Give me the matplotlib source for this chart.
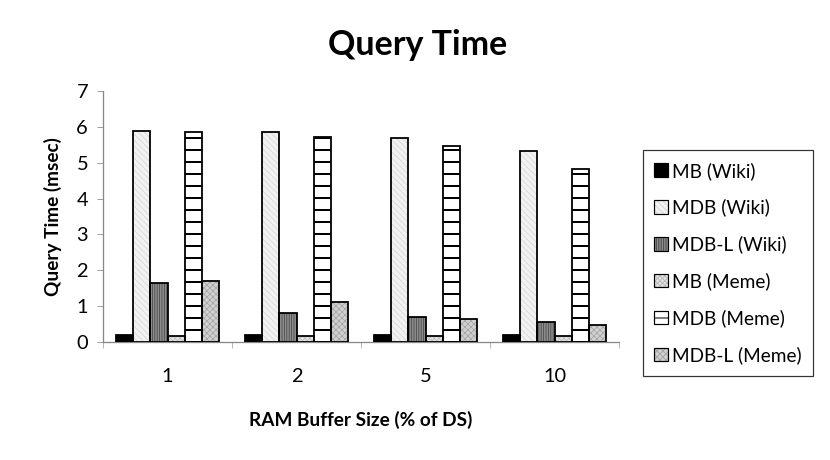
import numpy as np
import matplotlib
matplotlib.use("Agg")
import matplotlib.pyplot as plt
from matplotlib.patches import Patch
from matplotlib.legend_handler import HandlerTuple

plt.rcParams['font.family'] = ['Lato', 'DejaVu Sans']

# --- data ---
categories = ["1", "2", "5", "10"]
series_names = ["MB (Wiki)", "MDB (Wiki)", "MDB-L (Wiki)",
                "MB (Meme)", "MDB (Meme)", "MDB-L (Meme)"]
mb_wiki = [0.19, 0.19, 0.19, 0.19]
mdb_wiki = [5.88, 5.86, 5.68, 5.33]
mdbl_wiki = [1.65, 0.81, 0.70, 0.55]
mb_meme = [0.17, 0.17, 0.17, 0.17]
mdb_meme = [5.85, 5.73, 5.46, 4.83]
mdbl_meme = [1.69, 1.11, 0.65, 0.48]
all_series = [mb_wiki, mdb_wiki, mdbl_wiki, mb_meme, mdb_meme, mdbl_meme]

# (face colour, hatch, hatch colour)
styles = [
    ("black", "", "black"),
    ("#f2f2f2", "\\\\\\\\", "#d6d6d6"),
    ("#8c8c8c", "|||||", "#4a4a4a"),
    ("#e6e6e6", "xxxxx", "#bdbdbd"),
    ("white", "-", "black"),
    ("#d0d0d0", "xxxx", "#a8a8a8"),
]

W, H = 830, 460
fig = plt.figure(figsize=(W / 72, H / 72), dpi=72)
ax = fig.add_axes([103 / W, 1 - 342 / H, (619 - 103) / W, (342 - 91) / H])

x = np.arange(len(categories))
bw = 0.8 / len(all_series)
for i, (vals, (fc, hatch, hc)) in enumerate(zip(all_series, styles)):
    pos = x + (i - 2.5) * bw
    hlw = 2.0 if hatch == "-" else 0.8
    with plt.rc_context({'hatch.linewidth': hlw}):
        ax.bar(pos, vals, bw, color=fc, hatch=hatch, edgecolor=hc, linewidth=0, zorder=2)
    ax.bar(pos, vals, bw, fill=False, edgecolor="black", linewidth=1.8, zorder=3)

ax.set_xlim(-0.5, len(categories) - 0.5)
ax.set_ylim(0, 7)
ax.set_yticks(range(8))
ax.set_xticks(x)
ax.set_xticklabels(categories)
ax.set_xticks(np.arange(-0.5, len(categories)), minor=True)
ax.tick_params(axis='x', which='major', length=0, pad=26, labelsize=20)
ax.tick_params(axis='x', which='minor', length=6, color='#888888', direction='out')
ax.tick_params(axis='y', length=6, color='#888888', direction='out', pad=9, labelsize=20)
for s in ['top', 'right']:
    ax.spines[s].set_visible(False)
for s in ['left', 'bottom']:
    ax.spines[s].set_color('#888888')
    ax.spines[s].set_linewidth(1.3)

ax.set_ylabel("Query Time (msec)", fontsize=19, fontweight='bold', labelpad=14)
ax.set_xlabel("RAM Buffer Size (% of DS)", fontsize=19, fontweight='bold', labelpad=26)
fig.text(418 / W, 1 - 45 / H, "Query Time", ha='center', va='center',
         fontsize=34, fontweight='bold')

handles = []
for fc, hatch, hc in styles:
    with plt.rc_context({'hatch.linewidth': 0.8}):
        inner = Patch(facecolor=fc, hatch=hatch, edgecolor=hc, linewidth=0)
    outline = Patch(fill=False, edgecolor='black', linewidth=1.2)
    handles.append((inner, outline))
leg = ax.legend(handles, series_names, loc='center left',
                handler_map={tuple: HandlerTuple(ndivide=1, pad=0)},
                bbox_to_anchor=(643 / W, 1 - 263 / H), bbox_transform=fig.transFigure,
                fontsize=19, frameon=True, fancybox=False, edgecolor='black',
                handlelength=0.7, handleheight=0.7, handletextpad=0.25,
                labelspacing=1.0, borderpad=0.6, borderaxespad=0)
leg.get_frame().set_linewidth(1.2)

fig.savefig("out.png", dpi=72)
